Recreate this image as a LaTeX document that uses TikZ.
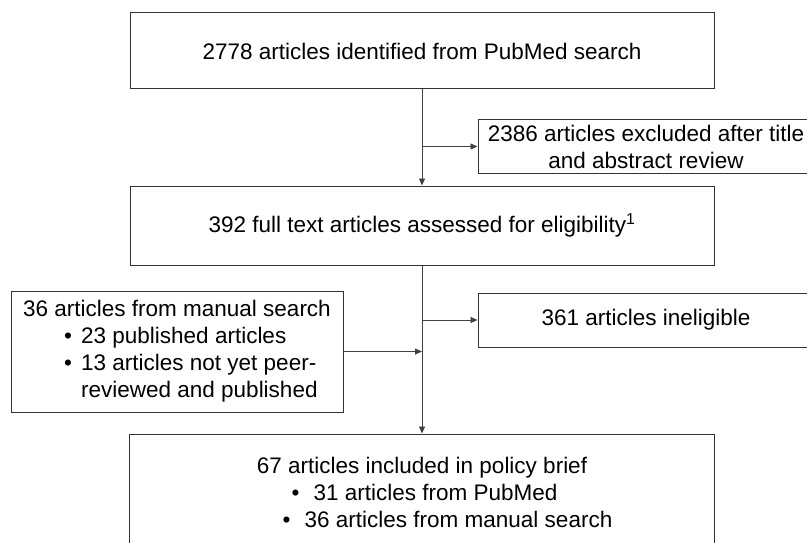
\documentclass[tikz,border=0pt]{standalone}
\usepackage{fontspec}
\setmainfont{Liberation Sans}
\usepackage{tikz}
\usetikzlibrary{arrows.meta, positioning}
\newcommand{\bul}[1][17pt]{\makebox[#1][l]{\textbullet}}

\begin{document}
\begin{tikzpicture}[
    x=1pt, y=-1pt,
    box/.style={rectangle, draw=black!80, line width=1pt, inner sep=2pt, align=center, font=\fontsize{22.5}{27}\selectfont},
    arrow/.style={-{Triangle[length=7pt, width=6pt]}, line width=0.8pt, draw=black!75}
]
\path[use as bounding box, clip] (0,0) rectangle (807,543);

\node[box, minimum width=584pt, minimum height=76pt] (search) at (422,51) {2778 articles identified from PubMed search};
\node[box, minimum width=584pt, minimum height=79pt, below=96pt of search] (fulltext) {392 full text articles assessed for eligibility\textsuperscript{1}};
\node[box, minimum width=585pt, minimum height=116pt, below=168pt of fulltext] (included) {67 articles included in policy brief\\
  \hspace*{5pt}\bul[22pt]31 articles from PubMed\\
  \hspace*{51pt}\bul[22pt]36 articles from manual search};
\node[box, minimum width=336pt, minimum height=53pt] (excluded) at (646,146.5) {2386 articles excluded after title\\and abstract review};
\node[box, minimum width=336pt, minimum height=54pt] (ineligible) at (646,320) {361 articles ineligible};
\node[box, align=left, minimum width=332pt, minimum height=121pt] (manual) at (177,351.5) {36 articles from manual search\\
  \hspace*{41pt}\bul 23 published articles\\
  \hspace*{41pt}\bul 13 articles not yet peer-\\
  \hspace*{58pt}reviewed and published};

\coordinate (split1) at (search.south |- excluded.west);
\coordinate (split2) at (fulltext.south |- ineligible.west);
\coordinate (merge) at (fulltext.south |- manual.east);

\draw[arrow] (search) -- (fulltext);
\draw[arrow] (split1) -- (excluded);
\draw[arrow] (fulltext) -- (included);
\draw[arrow] (split2) -- (ineligible);
\draw[arrow] (manual) -- (merge);
\end{tikzpicture}
\end{document}
